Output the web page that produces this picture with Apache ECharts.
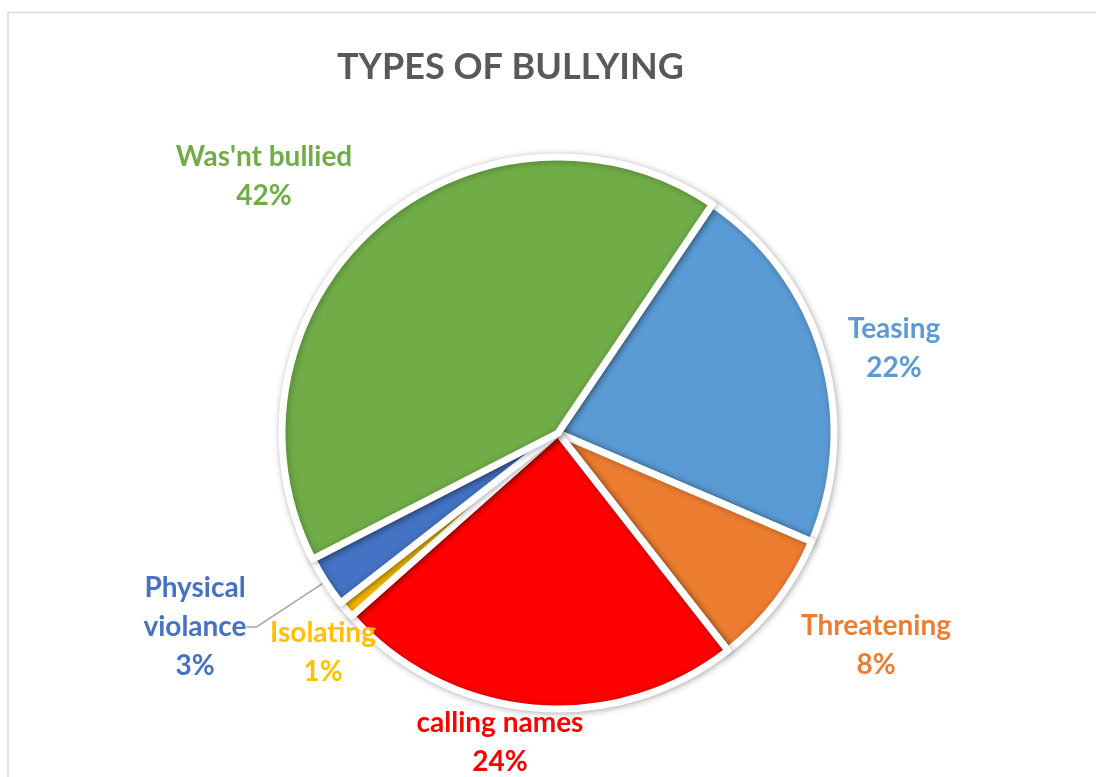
<!DOCTYPE html>
<html>
<head>
<meta charset="utf-8">
<script src="https://cdn.jsdelivr.net/npm/echarts@6/dist/echarts.min.js"></script>
<style>
  html, body { margin: 0; padding: 0; background: #fff; }
  #chart { width: 1096px; height: 777px; }
</style>
</head>
<body>
<div id="chart"></div>
<script>
// Shares of each type of bullying, in percent (clockwise from the top-right)
const categories = ['Teasing', 'Threatening', 'calling names', 'Isolating', 'Physical\nviolance', "Was'nt bullied"];
const shares = [22, 8, 24, 1, 3, 42];
const colors = ['#5b9bd5', '#ed7d31', '#ff0000', '#ffc000', '#4472c4', '#70ad47'];

// Where each slice's label block sits (centre of the text)
const labelSpots = [[894, 348], [876, 645], [500, 742], [323, 652], [195, 627], [264, 176]];

const chart = echarts.init(document.getElementById('chart'));

chart.setOption({
  backgroundColor: '#ffffff',
  animation: false,
  title: {
    text: 'TYPES OF BULLYING',
    left: 332,
    top: 44,
    textStyle: { fontFamily: 'Lato', fontWeight: 'bold', fontSize: 36, color: '#595959' }
  },
  graphic: [{
    type: 'rect',
    shape: { x: 8, y: 12.5, width: 1200, height: 900 },
    style: { fill: 'none', stroke: '#d9d9d9', lineWidth: 1.5 },
    silent: true
  }],
  series: [{
    type: 'pie',
    center: [558, 433],
    radius: [0, 276],
    startAngle: 56,
    clockwise: true,
    data: categories.map((name, i) => ({
      name: name,
      value: shares[i],
      itemStyle: { color: colors[i] },
      label: { color: colors[i] },
      labelLine: { show: i === 4 }
    })),
    itemStyle: {
      borderColor: '#ffffff',
      borderWidth: 7,
      shadowBlur: 7,
      shadowOffsetX: 1,
      shadowOffsetY: 1,
      shadowColor: 'rgba(0,0,0,0.28)'
    },
    label: {
      show: true,
      position: 'outside',
      formatter: p => p.name + '\n' + p.value + '%',
      fontFamily: 'Lato',
      fontWeight: 'bold',
      fontSize: 28,
      lineHeight: 39,
      align: 'center'
    },
    labelLine: {
      show: true,
      length: 10,
      length2: 10,
      lineStyle: { color: '#a6a6a6', width: 1.5 }
    },
    labelLayout: function (params) {
      const spot = labelSpots[params.dataIndex];
      return {
        x: spot[0],
        y: spot[1],
        align: 'center',
        verticalAlign: 'middle'
      };
    }
  }]
});
</script>
</body>
</html>
